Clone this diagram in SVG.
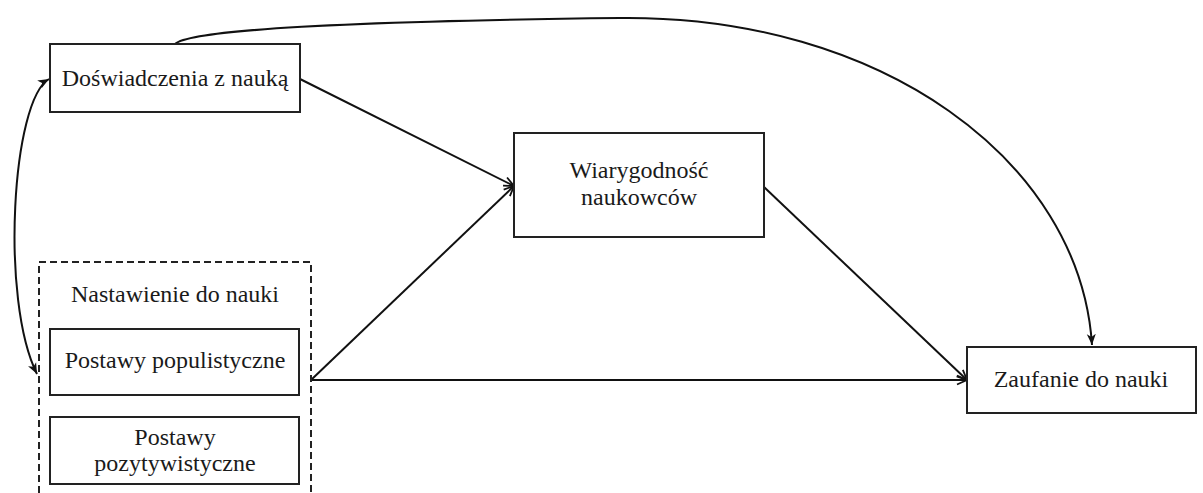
<svg xmlns="http://www.w3.org/2000/svg" width="1203" height="493" viewBox="0 0 1203 493">
<style>
.box{fill:#fff;stroke:#222;stroke-width:2}
.dash{fill:none;stroke:#222;stroke-width:2;stroke-dasharray:7,4}
.t{font-family:"Liberation Serif","Times New Roman",serif;font-size:24px;fill:#1a1a1a;text-anchor:middle}
.c{fill:none;stroke:#111;stroke-width:2}
</style>
<defs>
<marker id="open" viewBox="0 0 12 12" refX="11" refY="6" markerWidth="12" markerHeight="12" markerUnits="userSpaceOnUse" orient="auto">
<path d="M1,1.5 L11,6 L1,10.5" fill="none" stroke="#111" stroke-width="1.8"/>
</marker>
<marker id="fill" viewBox="0 0 12 12" refX="11" refY="6" markerWidth="12" markerHeight="12" markerUnits="userSpaceOnUse" orient="auto-start-reverse">
<path d="M0,1.5 L11,6 L0,10.5 L3,6 z" fill="#111"/>
</marker>
</defs>
<rect width="1203" height="493" fill="#fff"/>
<g id="connectors">
<path class="c" d="M175,44 C190,30 350,21 620,18 C880,15 1080,160 1092,345" marker-end="url(#fill)"/>
<path class="c" d="M49,79 C12,100 0,300 37,374" marker-start="url(#fill)" marker-end="url(#fill)"/>
<line class="c" x1="300" y1="79" x2="514" y2="186" marker-end="url(#open)"/>
<line class="c" x1="311" y1="380" x2="514" y2="186" marker-end="url(#open)"/>
<line class="c" x1="311" y1="380" x2="967" y2="380" marker-end="url(#open)"/>
<line class="c" x1="764" y1="187" x2="967" y2="380" marker-end="url(#open)"/>
</g>
<g id="doswiadczenia">
<rect class="box" x="50" y="44" width="250" height="68"/>
<text class="t" x="175" y="86">Doświadczenia z nauką</text>
</g>
<g id="wiarygodnosc">
<rect class="box" x="514" y="133" width="250" height="104"/>
<text class="t" x="639" y="178">Wiarygodność</text>
<text class="t" x="639" y="205">naukowców</text>
</g>
<g id="nastawienie">
<path class="dash" d="M39,493 L39,262 L311,262 L311,493"/>
<text class="t" x="175" y="302">Nastawienie do nauki</text>
</g>
<g id="populistyczne">
<rect class="box" x="50" y="329" width="249" height="66"/>
<text class="t" x="175" y="368">Postawy populistyczne</text>
</g>
<g id="pozytywistyczne">
<rect class="box" x="50" y="417" width="249" height="67"/>
<text class="t" x="175" y="445">Postawy</text>
<text class="t" x="175" y="471">pozytywistyczne</text>
</g>
<g id="zaufanie">
<rect class="box" x="967" y="347" width="229" height="66"/>
<text class="t" x="1081" y="387">Zaufanie do nauki</text>
</g>
</svg>
